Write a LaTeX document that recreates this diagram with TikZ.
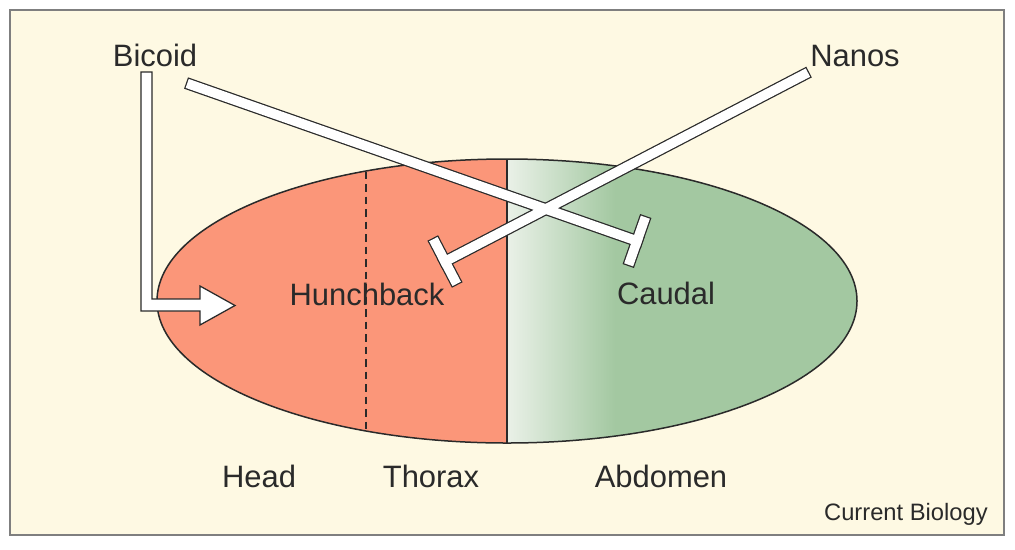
\documentclass[tikz,border=0pt]{standalone}
\usepackage{fontspec}
\setmainfont{Liberation Sans}
\usepackage{xcolor}
\definecolor{creamBg}{HTML}{FEF9E3}
\definecolor{frameGrey}{HTML}{7F7F7F}
\definecolor{headRed}{HTML}{FB9679}
\definecolor{abdGreen}{HTML}{A3C8A1}
\definecolor{abdPale}{HTML}{EAF1E8}
\definecolor{inkDark}{HTML}{2A2A2A}
\usepackage{tikz}
\usetikzlibrary{calc}

\begin{document}
\begin{tikzpicture}[x=0.2mm, y=-0.2mm,
    every node/.style={font=\fontsize{17.6}{20}\selectfont, text=inkDark},
    lbl/.style={anchor=base, inner sep=0pt},
    hollow/.style={draw=inkDark, fill=white, line width=0.25mm, line join=miter},
    bar/.style={line cap=rect, line width=#1},
    outline/.style={draw=inkDark, line width=0.3mm}]
  \useasboundingbox (0,0) rectangle (1015,549);
  \draw[frameGrey, fill=creamBg, line width=0.3mm] (10,10) rectangle (1004,535);

  % embryo: head/thorax red, abdomen green with a pale fade at the border
  \begin{scope}
    \clip (507,301) ellipse [x radius=350, y radius=142];
    \fill[headRed] (150,150) rectangle (507,450);
    \fill[abdGreen] (507,150) rectangle (860,450);
    \shade[left color=abdPale, right color=abdGreen] (507,150) rectangle (615,450);
  \end{scope}
  \draw[outline] (507,301) ellipse [x radius=350, y radius=142];
  \draw[outline] (507,159) -- (507,443);
  \draw[outline, dash pattern=on 1.5mm off 1mm] (366,171.5) -- (366,431.5);

  \node[lbl] (bcd)  at (155,66)  {Bicoid};
  \node[lbl] (nos)  at (855,66)  {Nanos};
  \node[lbl] (hb)   at (367,305) {Hunchback};
  \node[lbl] (cdl)  at (666,304) {Caudal};
  \node[lbl] (head) at (259,487) {Head};
  \node[lbl] (thx)  at (431,487) {Thorax};
  \node[lbl] (abd)  at (661,487) {Abdomen};
  \node[lbl, anchor=base east, font=\fontsize{13.5}{16}\selectfont] (credit)
        at (988,520) {Current Biology};

  \coordinate (bcd-a) at ($(bcd.base)+(-8.5,6)$);
  \coordinate (hb-a)  at ($(hb.base)+(-132,0.5)$);
  \coordinate (bcd-t) at ($(bcd.base)+(36.7,19)$);
  \coordinate (cdl-t) at ($(cdl.base)+(-29,-63)$);
  \coordinate (nos-t) at ($(nos.base)+(-51.3,8.8)$);
  \coordinate (hb-t)  at ($(hb.base)+(78,-43.5)$);

  % Bicoid activates Hunchback
  \draw[hollow] (bcd-a) ++(-5.5,0) -- ++(11,0) |- ($(hb-a)+(-35,-6.5)$) -- ++(0,-13)
        -- (hb-a) -- ++(-35,19.5) -- ++(0,-14) -- ++(-59,0) -- cycle;

  % repression bars, outline pass then white pass
  \foreach \w/\c in {2.4mm/inkDark, 1.9mm/white} {
    \draw[bar=\w, draw=\c] (bcd-t) -- (cdl-t);
    \draw[bar=\w, draw=\c] (nos-t) -- (hb-t);
    \draw[bar=\w, draw=\c] ($(cdl-t)!4.1mm!90:(bcd-t)$) -- ($(cdl-t)!4.1mm!-90:(bcd-t)$);
    \draw[bar=\w, draw=\c] ($(hb-t)!4.1mm!90:(nos-t)$) -- ($(hb-t)!4.1mm!-90:(nos-t)$);
  }
\end{tikzpicture}
\end{document}
